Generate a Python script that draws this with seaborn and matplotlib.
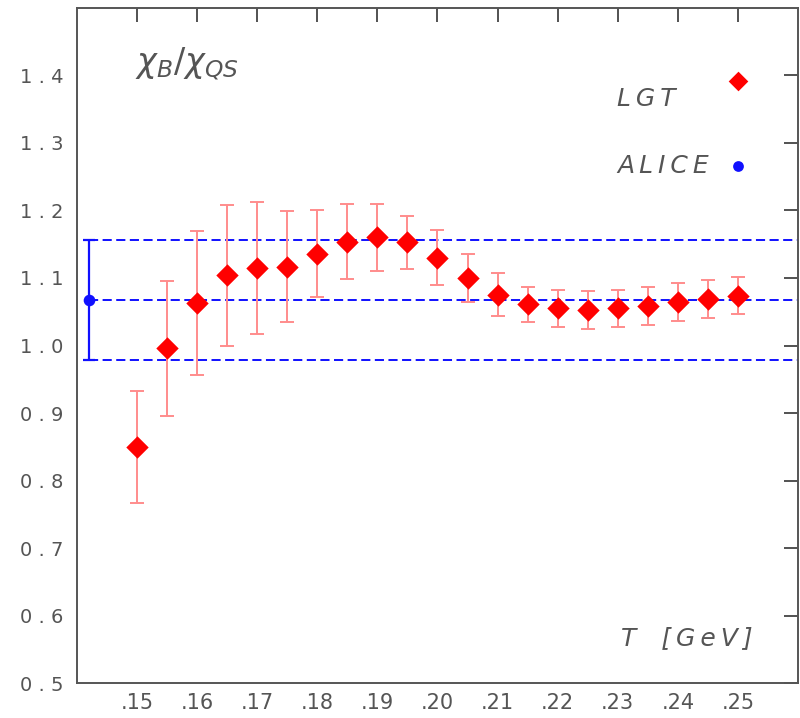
import matplotlib
matplotlib.use("Agg")
import matplotlib.pyplot as plt
import seaborn as sns
import pandas as pd
import numpy as np

# ---- data ----
T_lgt = [0.150, 0.155, 0.160, 0.165, 0.170, 0.175, 0.180, 0.185, 0.190, 0.195, 0.200,
         0.205, 0.210, 0.215, 0.220, 0.225, 0.230, 0.235, 0.240, 0.245, 0.250]
ratio_lgt = [0.850, 0.996, 1.063, 1.104, 1.115, 1.117, 1.136, 1.154, 1.160, 1.153, 1.130,
             1.100, 1.075, 1.061, 1.055, 1.053, 1.055, 1.059, 1.064, 1.069, 1.074]
err_lgt = [0.083, 0.100, 0.106, 0.104, 0.098, 0.082, 0.064, 0.055, 0.049, 0.039, 0.041,
           0.036, 0.032, 0.026, 0.027, 0.028, 0.027, 0.028, 0.028, 0.028, 0.028]

T_alice = [0.142]
ratio_alice = [1.067]
err_alice = [0.089]

x_ticks = [0.15, 0.16, 0.17, 0.18, 0.19, 0.20, 0.21, 0.22, 0.23, 0.24, 0.25]
x_ticklabels = [".15", ".16", ".17", ".18", ".19", ".20", ".21", ".22", ".23", ".24", ".25"]
y_ticks = [0.5, 0.6, 0.7, 0.8, 0.9, 1.0, 1.1, 1.2, 1.3, 1.4]
y_ticklabels = ["0 . 5", "0 . 6", "0 . 7", "0 . 8", "0 . 9", "1 . 0", "1 . 1", "1 . 2", "1 . 3", "1 . 4"]

df_lgt = pd.DataFrame({"T": T_lgt, "ratio": ratio_lgt, "err": err_lgt})
df_alice = pd.DataFrame({"T": T_alice, "ratio": ratio_alice, "err": err_alice})

sns.set_style("white")
plt.rcParams["font.family"] = ["DejaVu Sans"]
plt.rcParams["mathtext.fontset"] = "dejavusans"

fig = plt.figure(figsize=(8.0, 7.18), dpi=100)
ax = fig.add_axes([0.09625, 0.0487, 0.90125, 0.9402])

gray = "#555555"
red = "#ff0000"
lightred = "#ff8c8c"
blue = "#1010ff"
TS = "\u2009"

xmin, xmax = 0.14, 0.26

# ALICE band lines
a_c = ratio_alice[0]
a_e = err_alice[0]
ax.hlines([a_c + a_e, a_c, a_c - a_e], T_alice[0], xmax, colors=blue, lw=1.4,
          linestyles=[(0, (4.7, 2.3))], zorder=1)

# error bars
ax.errorbar(df_lgt["T"], df_lgt["ratio"], yerr=df_lgt["err"], fmt="none",
            ecolor=lightred, elinewidth=1.4, capsize=5, capthick=1.4, zorder=2)
ax.errorbar(df_alice["T"], df_alice["ratio"], yerr=df_alice["err"], fmt="none",
            ecolor=blue, elinewidth=1.6, capsize=4, capthick=1.6, zorder=2)

sns.scatterplot(data=df_lgt, x="T", y="ratio", marker="D", s=130, color=red,
                edgecolor=red, linewidth=0, ax=ax, zorder=3)
sns.scatterplot(data=df_alice, x="T", y="ratio", marker="o", s=70, color=blue,
                edgecolor=blue, linewidth=0, ax=ax, zorder=3)

# legend-like annotations
ax.scatter([0.250], [1.392], marker="D", s=100, color=red, linewidths=0, zorder=3)
ax.scatter([0.250], [1.266], marker="o", s=60, color=blue, linewidths=0, zorder=3)
ax.text(0.2299, 1.365, TS.join("LGT"), fontsize=18, style="italic", color=gray,
        va="center", ha="left")
ax.text(0.2299, 1.266, TS.join("ALICE"), fontsize=18, style="italic", color=gray,
        va="center", ha="left")

ax.text(0.1497, 1.418, r"$\chi_{B}/\chi_{QS}$", fontsize=24, color=gray,
        va="center", ha="left")
ax.text(0.2305, 0.566, "T\u2003[" + TS + TS.join("GeV") + TS + "]", fontsize=18,
        style="italic", color=gray, va="center", ha="left")

ax.set_xlim(xmin, xmax)
ax.set_ylim(0.5, 1.5)
ax.set_xticks(x_ticks)
ax.set_xticklabels(x_ticklabels)
ax.set_yticks(y_ticks)
ax.set_yticklabels(y_ticklabels)
ax.set_xlabel("")
ax.set_ylabel("")

ax.tick_params(axis="both", direction="in", length=10, width=1.3, color="#444444",
               labelcolor=gray, labelsize=14, top=True, right=True)
ax.tick_params(axis="x", pad=7, labelsize=15)
ax.tick_params(axis="y", pad=10)
for sp in ax.spines.values():
    sp.set_visible(True)
    sp.set_color("#555555")
    sp.set_linewidth(1.4)

fig.savefig("out.png", dpi=100)
